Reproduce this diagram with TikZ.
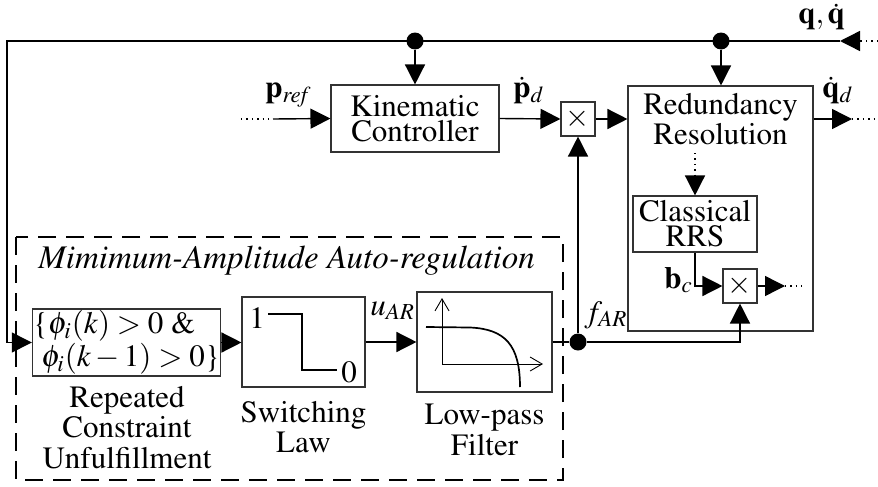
\documentclass[tikz,border=0pt]{standalone}
\usepackage[T1]{fontenc}
\usepackage{mathptmx}
\usetikzlibrary{arrows.meta}
\begin{document}
\begin{tikzpicture}[x=0.5pt,y=-0.5pt,
  box/.style={draw=black!80, line width=0.55pt, inner sep=0pt, align=center},
  txt/.style={font=\fontsize{15.5}{12.5}\selectfont},
  lbl/.style={font=\fontsize{15.5}{15.25}\selectfont, align=center, inner sep=0pt, anchor=north},
  sym/.style={font=\fontsize{15.5}{15.5}\selectfont, inner sep=0pt, anchor=base west},
  ln/.style={line width=0.7pt},
  conn/.style={line width=0.7pt, -{Triangle[length=10pt,width=10pt]}},
  dots/.style={line width=0.7pt, dotted},
  junc/.style={circle, fill, inner sep=0pt, minimum size=8.5pt},
  dashbox/.style={line width=1.2pt, dash pattern=on 9pt off 5pt},
  barb/.style={line width=0.45pt, -{Straight Barb[length=6pt,width=7pt]}}
]
\useasboundingbox (0,0) rectangle (878,487);

% blocks
\node[box, txt, minimum width=84pt, minimum height=33.5pt] (kin) at (415,118.5) {Kinematic\\Controller};
\node[box, minimum size=17pt, font=\fontsize{15.5}{15.5}\selectfont] (m1) at (578,119) {$\times$};
\node[box, minimum width=92.5pt, minimum height=122.5pt] (rr) at (720.5,208.5) {};
\node[txt, align=center, inner sep=0pt] (rrt) at (720.5,119) {Redundancy\\Resolution};
\node[box, txt, minimum width=62pt, minimum height=28pt] (rrs) at (695,224) {Classical\\RRS};
\node[box, minimum size=17pt, font=\fontsize{15.5}{15.5}\selectfont] (m2) at (740,286) {$\times$};
\node[box, txt, minimum width=81.5pt, minimum height=33.5pt, align=left, inner sep=0.5pt] (rep) at (126.5,342.5)
  {\{$\phi_i(k)>0$ \&\\\hspace{4pt}$\phi_i(k-1)>0$\}};
\node[box, minimum width=61.5pt, minimum height=45pt] (sw) at (303.5,342) {};
\node[box, minimum width=67.5pt, minimum height=50pt] (lpf) at (484.5,342) {};

% dashed group
\draw[dashbox] (16,237) rectangle (563,480);
\node[font=\fontsize{16.5}{16.5}\selectfont\itshape, inner sep=0pt, anchor=base west] (title) at (38,268) {Mimimum-Amplitude Auto-regulation};

% labels under blocks
\node[lbl] (replbl) at (127,386) {Repeated\\Constraint\\Unfulfillment};
\node[lbl] (swlbl) at (303.5,401) {Switching\\Law};
\node[lbl] (lpflbl) at (484.5,404) {Low-pass\\Filter};

% switching law symbol
\node[sym, anchor=center] (one) at (257,318) {1};
\node[sym, anchor=center] (zero) at (349,372) {0};
\draw[line width=0.65pt] (268,314) -- (302,314) -- (302,370) -- (337,370);

% low-pass filter symbol
\draw[barb] (442,364) -- (442,298);
\draw[barb] (442,364) -- (543,364);
\draw[line width=0.85pt] (426,327) -- (470,327.5) .. controls (505,329) and (520,345) .. (520,387);

% junctions
\node[junc] (d1) at (415,41) {};
\node[junc] (d2) at (721,41) {};
\node[junc] (d3) at (578,342) {};

% coordinates
\coordinate (qa) at (878,41);
\coordinate (qb) at (860,41);
\coordinate (qt) at (840,41);
\coordinate (c1) at (7,41);
\coordinate (pa) at (241,119);
\coordinate (pb) at (273,119);
\coordinate (oa) at (852,119);
\coordinate (ob) at (878,119);
\coordinate (ra) at (695,153);
\coordinate (rb) at (695,175);
\coordinate (ma) at (785,286);
\coordinate (mb) at (802,286);

% connectors
\draw[dots] (qa) -- (qb);
\draw[conn] (qb) -- (qt);
\draw[conn] (qt) -- (c1) |- (rep.west);
\draw[conn] (d1) -- (kin.north);
\draw[conn] (d2) -- (d2 |- rr.north);
\draw[dots] (pa) -- (pb);
\draw[conn] (pb) -- (kin.west);
\draw[conn] (kin.east) -- (m1.west);
\draw[conn] (m1.east) -- (m1.east -| rr.west);
\draw[conn] (m1.east -| rr.east) -- (oa);
\draw[dots] (oa) -- (ob);
\draw[dots] (ra) -- (rb);
\draw[conn] (rb) -- (rrs.north);
\draw[conn] (rrs.south) |- (m2.west);
\draw[conn] (m2.east) -- (ma);
\draw[dots] (ma) -- (mb);
\draw[conn] (rep.east) -- (rep.east -| sw.west);
\draw[conn] (sw.east) -- (lpf.west);
\draw[ln] (lpf.east) -- (d3);
\draw[conn] (d3) -- (m1.south);
\draw[conn] (d3) -| (m2.south);

% signal labels
\node[sym] (lpref) at (265,97) {$\mathbf{p}_{\mathit{ref}}$};
\node[sym] (lpd) at (513,97) {$\dot{\mathbf{p}}_d$};
\node[sym] (lqd) at (822,97) {$\dot{\mathbf{q}}_d$};
\node[sym] (lq) at (798,24) {$\mathbf{q},\dot{\mathbf{q}}$};
\node[sym] (lu) at (370,315) {$u_{\mathit{AR}}$};
\node[sym] (lf) at (584,322) {$f_{\mathit{AR}}$};
\node[sym] (lb) at (664,288) {$\mathbf{b}_c$};
\end{tikzpicture}
\end{document}
